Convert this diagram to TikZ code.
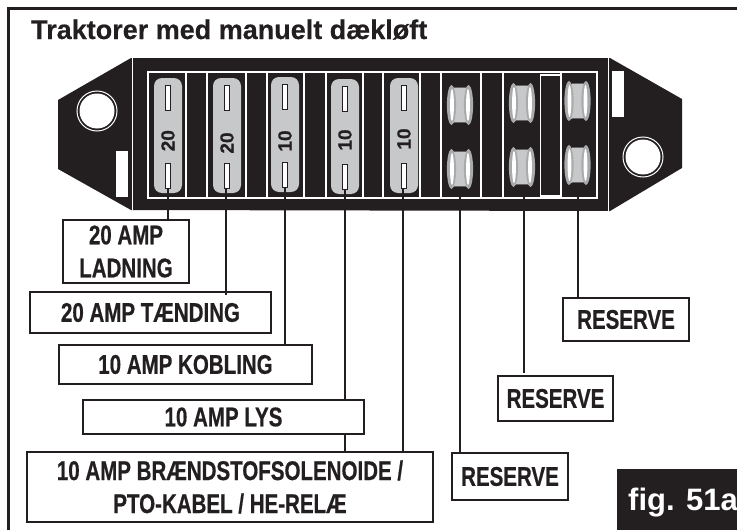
\documentclass[tikz,border=0pt]{standalone}
\usepackage{fontspec}
\setmainfont{Liberation Sans}
\newfontfamily\narrowfont[FakeStretch=0.76,FakeBold=0.5]{Liberation Sans}
\newfontfamily\heavyfont[FakeBold=0.5]{Liberation Sans}
\usepackage{xcolor}
\definecolor{panelblack}{HTML}{231F20}
\definecolor{bladegray}{HTML}{C6C8CA}
\tikzset{
  labelbox/.style={draw=panelblack,line width=2pt,fill=white,inner sep=0pt,align=center,text=panelblack,
    font={\narrowfont\bfseries\fontsize{27}{33}\selectfont}},
  blade/.style={fill=bladegray,rounded corners=8pt,minimum width=28pt,minimum height=115pt,inner sep=0pt},
  slot/.style={draw=panelblack,line width=0.5pt,fill=white,minimum width=5pt,minimum height=25pt,inner sep=0pt},
  rating/.style={rotate=90,inner sep=0pt,text=panelblack,font={\heavyfont\bfseries\fontsize{19}{19}\selectfont}},
  wire/.style={draw=panelblack,line width=2pt}
}
\begin{document}
\begin{tikzpicture}[x=1pt,y=-1pt]
\useasboundingbox (0,0) rectangle (737,530);
\draw[panelblack,line width=2.4pt] (8.5,530) -- (8.5,8.5) -- (737,8.5);
\node[anchor=base west,inner sep=0pt,text=panelblack,font={\heavyfont\bfseries\fontsize{27}{27}\selectfont}] (title) at (31,39) {Traktorer med manuelt dækløft};

% panel
\fill[panelblack] (131,58) -- (58,100) -- (58,169) -- (131,210) -- (610,211) -- (682,168) -- (682,99) -- (610,58) -- cycle;
\draw[white,line width=0.7pt] (132,58) -- (132,210);
\draw[white,line width=0.7pt] (608.5,58) -- (608.5,211);
\fill[white] (116,151) rectangle (128,197);
\fill[white] (612,71) rectangle (624,117);
\foreach \hx/\hy in {97/111,643/157} {
  \draw[white,line width=1pt] (\hx,\hy) circle (20pt);
  \fill[white] (\hx,\hy) circle (17.5pt);
}

% cells
\draw[white,line width=1.2pt] (148,72) rectangle (597,198);
\foreach \cx in {186,207,246,267,304,326,363,383,420,441,481,503,561} {
  \draw[white,line width=1.2pt] (\cx,72) -- (\cx,198);
}
\draw[white,line width=1.2pt] (540.5,75) rectangle (560.5,196);

% blade fuses
\foreach \n/\bx/\by/\amp/\ty in {1/168/135.5/20/140.7,2/227/135.5/20/143,3/285/134.5/10/141,4/345/136.5/10/140,5/404/135.5/10/139} {
  \node[blade] (fuse\n) at (\bx,\by) {};
  \node[slot] (slott\n) at (\bx,\by-37.5) {};
  \node[slot] (slotb\n) at (\bx,\by+40) {};
  \node[rating] (amp\n) at (\bx,\ty) {\amp};
}

% glass fuses
\foreach \gx/\gy in {460/105,460/169,522/103,522/167,577.5/101,577.5/165} {
  \fill[bladegray] (\gx-9,\gy-17.5) rectangle (\gx+9,\gy+17.5);
  \draw[panelblack!70,line width=0.5pt] (\gx-6,\gy-17.5) -- (\gx+6,\gy-17.5);
  \draw[panelblack!70,line width=0.5pt] (\gx-6,\gy+17.5) -- (\gx+6,\gy+17.5);
  \fill[bladegray!85!black] (\gx-8.5,\gy) ellipse (4.6pt and 20pt);
  \fill[bladegray!85!black] (\gx+8.5,\gy) ellipse (4.6pt and 20pt);
  \fill[white] (\gx-8,\gy) ellipse (1.9pt and 16pt);
  \fill[white] (\gx+8,\gy) ellipse (1.9pt and 16pt);
}
\coordinate (res6) at (459.5,197);
\coordinate (res7) at (524,197);
\coordinate (res8) at (578,197);

% labels, wires go under them
\coordinate (ladningtop) at (126,220);
\coordinate (koblingtop) at (185.5,345);
\coordinate (soltop) at (230,452);
\coordinate (res6top) at (510,453);
\coordinate (res8top) at (626,298);
\coordinate (res7top) at (555.5,373);
\coordinate (taendtop) at (150.5,295);
\draw[wire] (slotb1.south) -- (slotb1.south |- ladningtop);
\draw[wire] (slotb3.south) -- (slotb3.south |- koblingtop);
\draw[wire] (slotb4.south) -- (slotb4.south |- soltop);
\draw[wire] ([xshift=-1pt]slotb5.south) -- ([xshift=-1pt]slotb5.south |- soltop);
\draw[wire] (res6) -- (res6 |- res6top);
\draw[wire] (res7) -- (res7 |- res7top);
\draw[wire] (res8) -- (res8 |- res8top);

\node[labelbox,minimum width=126pt,minimum height=63pt] (ladning) at (126,251.5) {20 AMP\\LADNING};
\node[labelbox,minimum width=241pt,minimum height=41pt] (taending) at (150.5,312.5) {20 AMP TÆNDING};
\node[labelbox,minimum width=253pt,minimum height=39pt] (kobling) at (185.5,364.5) {10 AMP KOBLING};
\node[labelbox,minimum width=281pt,minimum height=34pt] (lys) at (223.5,417) {10 AMP LYS};
\node[labelbox,minimum width=406pt,minimum height=70pt] (solenoide) at (230,487) {10 AMP BRÆNDSTOFSOLENOIDE /\\PTO-KABEL / HE-RELÆ};
\node[labelbox,minimum width=116pt,minimum height=47pt] (reserve1) at (510,476.5) {RESERVE};
\node[labelbox,minimum width=115pt,minimum height=45pt] (reserve2) at (555.5,398.5) {RESERVE};
\node[labelbox,minimum width=126pt,minimum height=43pt] (reserve3) at (626,319.5) {RESERVE};
\draw[wire] ([xshift=-1pt]slotb2.south) -- ([xshift=-1pt]slotb2.south |- taendtop);

% figure tag
\fill[panelblack] (617,469) rectangle (737,530);
\node[anchor=base west,inner sep=0pt,text=white,font={\bfseries\fontsize{31}{31}\selectfont}] (figtag) at (628,510) {fig. 51a};
\end{tikzpicture}
\end{document}
